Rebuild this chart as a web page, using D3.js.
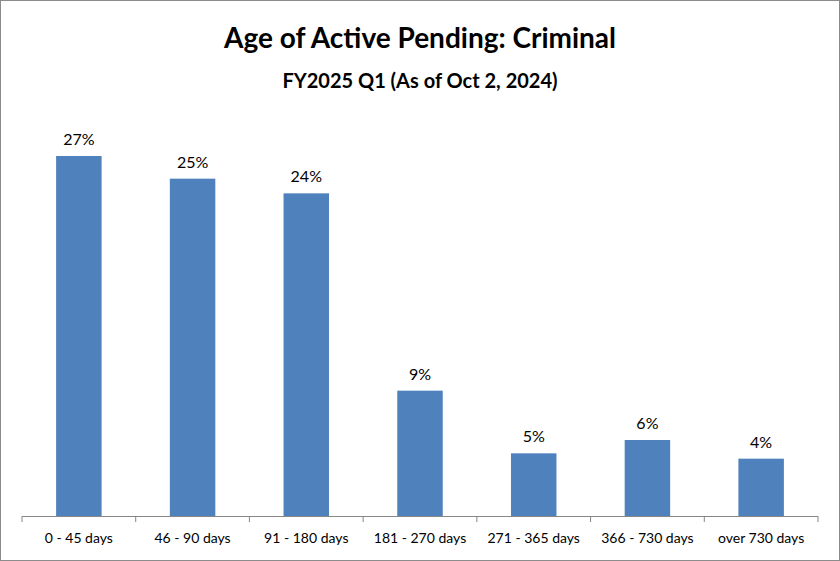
<!DOCTYPE html>
<html><head><meta charset="utf-8">
<script src="https://cdn.jsdelivr.net/npm/d3@7"></script>
<style>body{margin:0;background:#fff}svg{font-family:Lato,"Open Sans",sans-serif}</style>
</head><body><svg width="840" height="561"></svg>
<script>
const categories=["0 - 45 days","46 - 90 days","91 - 180 days","181 - 270 days","271 - 365 days","366 - 730 days","over 730 days"];
const values=[27.0,25.3,24.2,9.4,4.7,5.7,4.3];
const svg=d3.select("svg");
svg.append("rect").attr("x",0.5).attr("y",0.5).attr("width",839).attr("height",560).attr("fill","#fff").attr("stroke","#8c8c8c");
const x=d3.scaleBand().domain(categories).range([22,818]).paddingInner(0.6).paddingOuter(0.3);
const y=d3.scaleLinear().domain([0,27]).range([516,156]);
svg.selectAll(".bar").data(values).join("rect").attr("x",(d,i)=>x(categories[i])).attr("width",x.bandwidth())
 .attr("y",d=>y(d)).attr("height",d=>516-y(d)).attr("fill","#4f81bd");
svg.selectAll(".lbl").data(values).join("text").attr("x",(d,i)=>x(categories[i])+x.bandwidth()/2).attr("y",d=>y(d)-11)
 .attr("text-anchor","middle").attr("font-size",16).attr("fill","#000").text(d=>Math.round(d)+"%");
const b=x.step();
svg.append("line").attr("x1",22).attr("x2",818).attr("y1",516.5).attr("y2",516.5).attr("stroke","#868686");
for(let i=0;i<=categories.length;i++){const xx=22+i*(796/7);svg.append("line").attr("x1",xx).attr("x2",xx).attr("y1",516).attr("y2",522).attr("stroke","#868686");}
svg.selectAll(".cat").data(categories).join("text").attr("x",d=>x(d)+x.bandwidth()/2).attr("y",543)
 .attr("text-anchor","middle").attr("font-size",14).text(d=>d);
svg.append("text").attr("x",420).attr("y",48).attr("text-anchor","middle").attr("font-size",28).attr("font-weight","bold").text("Age of Active Pending: Criminal");
svg.append("text").attr("x",420).attr("y",88).attr("text-anchor","middle").attr("font-size",20).attr("font-weight","bold").text("FY2025 Q1 (As of Oct 2, 2024)");
</script></body></html>
